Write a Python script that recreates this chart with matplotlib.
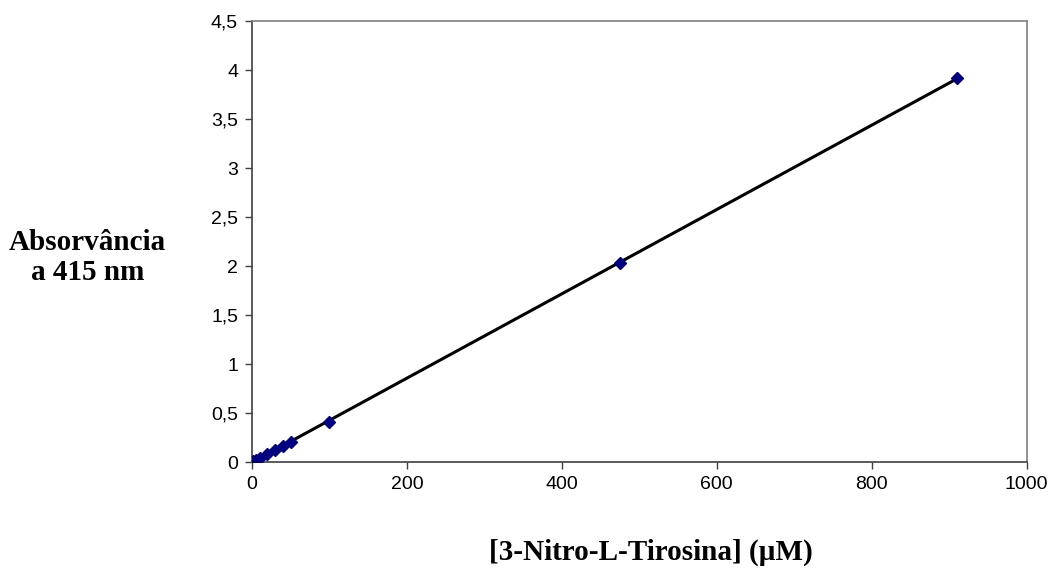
import numpy as np
import matplotlib
matplotlib.use("Agg")
import matplotlib.pyplot as plt
from matplotlib.ticker import FuncFormatter

# concentration (uM) and absorbance at 415 nm
conc = [0, 1, 2, 5, 10, 20, 30, 40, 50, 100, 475, 910]
absorb = [0.0, 0.004, 0.009, 0.02, 0.04, 0.085, 0.125, 0.165, 0.205, 0.405, 2.035, 3.915]

x_ticks = [0, 200, 400, 600, 800, 1000]
y_ticks = [0, 0.5, 1, 1.5, 2, 2.5, 3, 3.5, 4, 4.5]

fig = plt.figure(figsize=(10.54, 5.69), dpi=100)
ax = fig.add_axes([0.239, 0.188, 0.735, 0.775])

# linear fit
slope, icpt = np.polyfit(conc, absorb, 1)
xs = np.array([min(conc), max(conc)])
ax.plot(xs, slope * xs + icpt, color="black", lw=2.2, zorder=2)
ax.plot(conc, absorb, linestyle="none", marker="D", markersize=6,
        color="#000080", markeredgecolor="#000080", zorder=3)

ax.set_xlim(0, 1000)
ax.set_ylim(0, 4.5)
ax.set_xticks(x_ticks)
ax.set_yticks(y_ticks)
ax.yaxis.set_major_formatter(FuncFormatter(lambda v, p: f"{v:g}".replace(".", ",")))

for lab in ax.get_xticklabels() + ax.get_yticklabels():
    lab.set_fontfamily("Liberation Sans")
    lab.set_fontsize(14)
ax.tick_params(direction="out", length=5, width=1, color="#404040", pad=5)

for side in ["top", "right"]:
    ax.spines[side].set_color("#808080")
for side in ["left", "bottom"]:
    ax.spines[side].set_color("#404040")
for s in ax.spines.values():
    s.set_linewidth(1.2)

fig.text(0.083, 0.547, "Absorvância\na 415 nm", ha="center", va="center",
         fontfamily="Liberation Serif", fontweight="bold", fontsize=21,
         linespacing=1.15)
fig.text(0.618, 0.03, "[3-Nitro-L-Tirosina] (µM)", ha="center", va="center",
         fontfamily="Liberation Serif", fontweight="bold", fontsize=21)

fig.savefig("out.png", dpi=100)
